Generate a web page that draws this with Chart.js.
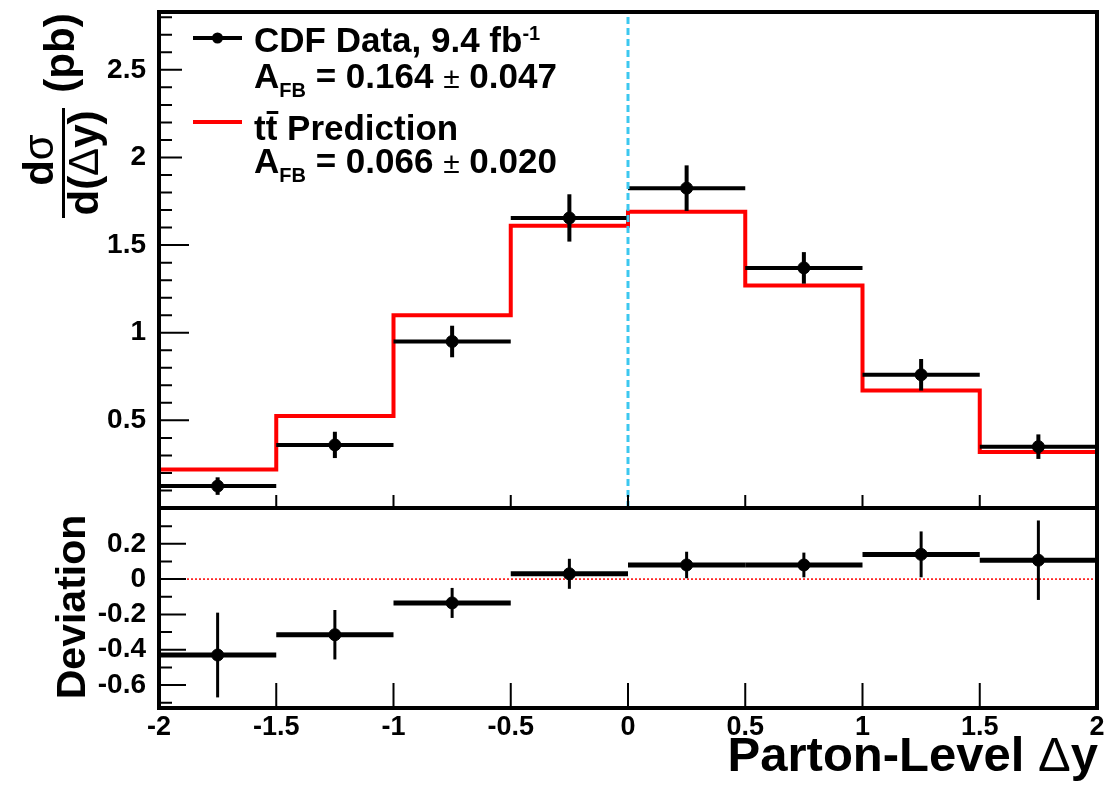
<!DOCTYPE html>
<html>
<head>
<meta charset="utf-8">
<script src="https://cdn.jsdelivr.net/npm/chart.js@4.4.1/dist/chart.umd.min.js"></script>
<style>
  body { margin: 0; background: #fff; }
  #wrap { position: relative; width: 1118px; height: 788px; }
  canvas { position: absolute; left: 0; }
  #top { top: 0; }
  #bottom { top: 500px; }
</style>
</head>
<body>
<div id="wrap">
  <canvas id="bottom" width="1118" height="288"></canvas>
  <canvas id="top" width="1118" height="515"></canvas>
</div>
<script>
// binned data
const binEdges = [-2, -1.5, -1, -0.5, 0, 0.5, 1, 1.5, 2];
const binCenters = [-1.75, -1.25, -0.75, -0.25, 0.25, 0.75, 1.25, 1.75];
const dataXsec = [0.125, 0.36, 0.95, 1.655, 1.825, 1.37, 0.76, 0.35];
const dataXsecErr = [0.05, 0.075, 0.09, 0.135, 0.13, 0.09, 0.09, 0.07];
const predXsec = [0.22, 0.525, 1.10, 1.61, 1.69, 1.27, 0.67, 0.32];
const deviation = [-0.43, -0.315, -0.135, 0.03, 0.08, 0.08, 0.14, 0.107];
const deviationErr = [0.24, 0.14, 0.085, 0.085, 0.075, 0.07, 0.13, 0.225];

const topTicks = [0.5, 1, 1.5, 2, 2.5];
const devTicks = [-0.6, -0.4, -0.2, 0, 0.2];
const xTicks = [-2, -1.5, -1, -0.5, 0, 0.5, 1, 1.5, 2];

const TOP_MAX = 2.83;
const DEV_MIN = -0.73, DEV_MAX = 0.38;

const FAM = "'Liberation Sans', Arial, sans-serif";
const B = s => 'bold ' + s + 'px ' + FAM;
const R = s => s + 'px ' + FAM;

// draw text made of pieces with different fonts
function drawRich(ctx, parts, x, y, align) {
  let total = 0;
  parts.forEach(p => { ctx.font = p[1]; p.w = ctx.measureText(p[0]).width; total += p.w; });
  let cx = align === 'center' ? x - total / 2 : align === 'right' ? x - total : x;
  ctx.textAlign = 'left';
  ctx.textBaseline = 'alphabetic';
  parts.forEach(p => { ctx.font = p[1]; ctx.fillText(p[0], cx, y + (p[2] || 0)); p.x = cx; cx += p.w; });
  return parts;
}

function drawRot(ctx, parts, baseX, centerY) {
  ctx.save();
  ctx.translate(baseX, centerY);
  ctx.rotate(-Math.PI / 2);
  drawRich(ctx, parts, 0, 0, 'center');
  ctx.restore();
}

function errorBars(vals, errs, hw, vw) {
  return {
    id: 'errbars',
    beforeDatasetDraw(chart, args) {
      if (args.index !== 1) return;
      const ctx = chart.ctx, sx = chart.scales.x, sy = chart.scales.y;
      ctx.save();
      ctx.strokeStyle = '#000';
      vals.forEach((v, i) => {
        const y = sy.getPixelForValue(v);
        ctx.lineWidth = hw;
        ctx.beginPath();
        ctx.moveTo(sx.getPixelForValue(binEdges[i]), y);
        ctx.lineTo(sx.getPixelForValue(binEdges[i + 1]), y);
        ctx.stroke();
        const xc = sx.getPixelForValue(binCenters[i]);
        ctx.lineWidth = vw;
        ctx.beginPath();
        ctx.moveTo(xc, sy.getPixelForValue(v - errs[i]));
        ctx.lineTo(xc, sy.getPixelForValue(v + errs[i]));
        ctx.stroke();
      });
      ctx.restore();
    }
  };
}

function frameAndTicks(chart, yFrom, yTo, isMajor, majLen, minLen, xTickLen) {
  const ctx = chart.ctx, a = chart.chartArea, sx = chart.scales.x, sy = chart.scales.y;
  ctx.save();
  ctx.strokeStyle = '#000';
  ctx.lineWidth = 2;
  ctx.beginPath();
  for (let i = yFrom; i <= yTo; i++) {
    const y = sy.getPixelForValue(i / 10);
    ctx.moveTo(a.left, y);
    ctx.lineTo(a.left + (isMajor(i) ? majLen : minLen), y);
  }
  xTicks.slice(1, -1).forEach(v => {
    const x = sx.getPixelForValue(v);
    ctx.moveTo(x, a.bottom);
    ctx.lineTo(x, a.bottom - xTickLen);
  });
  ctx.stroke();
  ctx.restore();
}

// frame; the lower panel skips its top edge so the shared border stays thin
function frame(chart, withTop) {
  const ctx = chart.ctx, a = chart.chartArea;
  ctx.save();
  ctx.strokeStyle = '#000';
  ctx.lineWidth = 4;
  ctx.beginPath();
  if (withTop) {
    ctx.rect(a.left, a.top, a.right - a.left, a.bottom - a.top);
  } else {
    ctx.moveTo(a.left, a.top - 2);
    ctx.lineTo(a.left, a.bottom);
    ctx.lineTo(a.right, a.bottom);
    ctx.lineTo(a.right, a.top - 2);
  }
  ctx.stroke();
  ctx.restore();
}

const topDecor = {
  id: 'topDecor',
  afterDraw(chart) {
    const ctx = chart.ctx;
    frameAndTicks(chart, 1, 28, i => i % 5 === 0, 30, 13, 13);
    // legend box
    ctx.fillStyle = '#fff';
    ctx.fillRect(182, 15, 400, 175);
    ctx.fillStyle = '#000';
    frame(chart, true);

    // legend entries
    ctx.save();
    ctx.strokeStyle = '#000';
    ctx.lineWidth = 4;
    ctx.beginPath(); ctx.moveTo(193, 38); ctx.lineTo(242, 38); ctx.stroke();
    ctx.beginPath(); ctx.arc(217.5, 38, 5.5, 0, Math.PI * 2); ctx.fill();
    ctx.strokeStyle = '#ff0000';
    ctx.beginPath(); ctx.moveTo(193, 122); ctx.lineTo(242, 122); ctx.stroke();
    ctx.restore();

    drawRich(ctx, [['CDF Data, 9.4 fb', B(35)], ['-1', B(20), -12]], 254, 52, 'left');
    drawRich(ctx, [['A', B(35)], ['FB', B(20), 9], [' = 0.164 ', B(35)], ['\u00b1', R(30)], [' 0.047', B(35)]], 254, 88, 'left');
    const p = drawRich(ctx, [['t', B(35)], ['t', B(35)], [' Prediction', B(35)]], 254, 140, 'left');
    ctx.fillRect(p[1].x + 1, 111, p[1].w, 3);
    drawRich(ctx, [['A', B(35)], ['FB', B(20), 9], [' = 0.066 ', B(35)], ['\u00b1', R(30)], [' 0.020', B(35)]], 254, 173, 'left');

    // y axis title
    drawRot(ctx, [['d', B(42)], ['\u03c3', R(42)]], 53, 160);
    ctx.fillRect(62, 108, 3, 110);
    drawRot(ctx, [['d(', B(42)], ['\u0394', R(42)], ['y)', B(42)]], 98, 163);
    drawRot(ctx, [['(pb)', B(42)]], 74, 53);
  }
};

const bottomDecor = {
  id: 'bottomDecor',
  afterDraw(chart) {
    const ctx = chart.ctx;
    frameAndTicks(chart, -7, 3, i => i % 2 === 0, 27, 13, 25);
    frame(chart, false);
    ctx.fillStyle = '#000';
    drawRot(ctx, [['Deviation', B(41)]], 85, 107);
    drawRich(ctx, [['Parton-Level ', B(49)], ['\u0394', R(49)], ['y', B(49)]], 1098, 271, 'right');
  }
};

const tickFont = s => ({ family: FAM, size: s, weight: 'bold' });
const plain = v => String(v);
const fixY = s => { s.width = 159; s.paddingTop = 0; s.paddingBottom = 0; };
const fixX = h => s => { s.height = h; s.paddingLeft = 0; s.paddingRight = 0; };

// top panel: cross section
new Chart(document.getElementById('top'), {
  type: 'line',
  data: {
    datasets: [
      {
        data: [{ x: binEdges[0], y: 0 }]
          .concat(predXsec.map((v, i) => ({ x: binEdges[i], y: v })))
          .concat([{ x: binEdges[binEdges.length - 1], y: predXsec[predXsec.length - 1] }]),
        borderColor: '#ff0000',
        borderWidth: 4,
        pointRadius: 0,
        stepped: 'before',
        order: 3
      },
      {
        data: binCenters.map((x, i) => ({ x: x, y: dataXsec[i] })),
        showLine: false,
        pointRadius: 6,
        pointBackgroundColor: '#000',
        pointBorderColor: '#000',
        order: 2
      },
      {
        data: [{ x: 0, y: 0 }, { x: 0, y: TOP_MAX }],
        borderColor: '#3cc8f0',
        borderWidth: 3,
        borderDash: [7, 4],
        pointRadius: 0,
        order: 1
      }
    ]
  },
  options: {
    responsive: false,
    animation: false,
    layout: { padding: { top: 12, right: 21, bottom: 4, left: 0 } },
    plugins: { legend: { display: false }, tooltip: { enabled: false } },
    scales: {
      x: { type: 'linear', min: -2, max: 2, display: false },
      y: {
        min: 0, max: TOP_MAX,
        afterFit: fixY,
        afterBuildTicks: s => { s.ticks = topTicks.map(v => ({ value: v })); },
        grid: { display: false, drawTicks: false },
        border: { display: false },
        ticks: { font: tickFont(28), color: '#000', padding: 13, callback: plain }
      }
    }
  },
  plugins: [errorBars(dataXsec, dataXsecErr, 4, 4), topDecor]
});

// bottom panel: deviation
new Chart(document.getElementById('bottom'), {
  type: 'line',
  data: {
    datasets: [
      {
        data: [{ x: -2, y: 0 }, { x: 2, y: 0 }],
        borderColor: '#ff0000',
        borderWidth: 1.5,
        borderDash: [2, 2],
        pointRadius: 0,
        order: 3
      },
      {
        data: binCenters.map((x, i) => ({ x: x, y: deviation[i] })),
        showLine: false,
        pointRadius: 6,
        pointBackgroundColor: '#000',
        pointBorderColor: '#000',
        order: 2
      }
    ]
  },
  options: {
    responsive: false,
    animation: false,
    layout: { padding: { top: 12, right: 21, bottom: 0, left: 0 } },
    plugins: { legend: { display: false }, tooltip: { enabled: false } },
    scales: {
      x: {
        type: 'linear', min: -2, max: 2,
        afterFit: fixX(80),
        afterBuildTicks: s => { s.ticks = xTicks.map(v => ({ value: v })); },
        grid: { display: false, drawTicks: false },
        border: { display: false },
        ticks: { font: tickFont(27), color: '#000', padding: 3, maxRotation: 0, autoSkip: false, callback: plain }
      },
      y: {
        min: DEV_MIN, max: DEV_MAX,
        afterFit: fixY,
        afterBuildTicks: s => { s.ticks = devTicks.map(v => ({ value: v })); },
        grid: { display: false, drawTicks: false },
        border: { display: false },
        ticks: { font: tickFont(28), color: '#000', padding: 13, callback: plain }
      }
    }
  },
  plugins: [errorBars(deviation, deviationErr, 5, 3), bottomDecor]
});
</script>
</body>
</html>
